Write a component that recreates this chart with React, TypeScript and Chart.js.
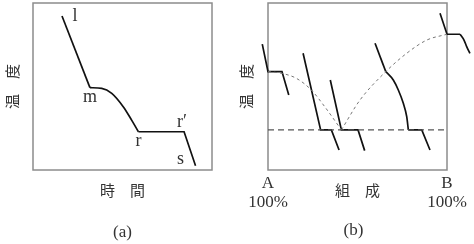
import React, { useEffect, useRef } from "react";
import { Chart, registerables } from "chart.js";
Chart.register(...registerables);

// ---------- Panel (a): cooling curve, time vs temperature ----------
const aLiquidTime = [16.2, 31.8];
const aLiquidTemp = [92.2, 49.3];
const aMushyTime = [31.8, 38.4, 44.0, 50.4, 55.1, 58.9];
const aMushyTemp = [49.3, 48.9, 45.9, 37.9, 29.9, 22.9];
const aSolidTime = [58.9, 84.4, 90.8];
const aSolidTemp = [22.9, 22.9, 2.6];
const aPointLabels = ["l", "m", "r", "r\u2032", "s"];
const aLabelTime = [16.2, 31.8, 58.9, 84.4, 90.8];
const aLabelTemp = [92.2, 49.3, 22.9, 22.9, 2.6];
const aLabelOffsetX = [13, 0, 0, -2, -15];
const aLabelOffsetY = [0, 10, 10, -9, -6];

// ---------- Panel (b): phase diagram, composition vs temperature ----------
const liqA_x = [0, 8, 16, 24.2, 31.7, 41];
const liqA_y = [58.9, 57.8, 54.8, 47.9, 37.9, 24];
const liqB_x = [41, 51.4, 65.8, 77.5, 88.7, 100];
const liqB_y = [24, 41.9, 58.9, 69.9, 77.8, 81.3];
const eut_x = [0, 100];
const eut_y = [24, 24];

const c1_x = [-3.2, 0, 7.8, 11.6];
const c1_y = [75.4, 58.9, 58.9, 44.9];
const c2_x = [19.6, 29.4, 35.4, 39.7];
const c2_y = [69.9, 24, 24, 12];
const c3_x = [34.8, 41, 50.3, 54];
const c3_y = [53.9, 24, 24, 11.6];
const c4a_x = [59.8, 65.8];
const c4a_y = [75.9, 58.9];
const c4b_x = [65.8, 70, 72.8, 75.6, 77.5, 78.4];
const c4b_y = [58.9, 53.9, 47.9, 39.9, 31.9, 24];
const c4c_x = [78.4, 85.9, 90.5];
const c4c_y = [24, 24, 12];
const c5a_x = [96.1, 100, 107.3];
const c5a_y = [93.8, 81.3, 81.3];
const c5b_x = [107.3, 109.5, 111, 112.8];
const c5b_y = [81.3, 77.8, 73.9, 69.9];

const SERIF = "'Liberation Serif', 'DejaVu Serif', serif";
const CJK = "'Noto Sans CJK JP', 'Noto Sans CJK SC', sans-serif";
const TEXT = "#333";

const zip = (xs: number[], ys: number[]) => xs.map((x, i) => ({ x, y: ys[i] }));

const solid = (xs: number[], ys: number[], curved = false) => ({
  data: zip(xs, ys),
  showLine: true,
  pointRadius: 0,
  borderColor: "#111",
  borderWidth: 1.7,
  clip: false as any,
  cubicInterpolationMode: curved ? "monotone" : "default",
  tension: 0,
});
const dashed = (xs: number[], ys: number[], color: string, w: number, dash: number[]) => ({
  data: zip(xs, ys),
  showLine: true,
  pointRadius: 0,
  borderColor: color,
  borderWidth: w,
  borderDash: dash,
  clip: false as any,
  cubicInterpolationMode: "monotone",
});

// frame drawn around the 0..100 range of both scales
const boxPlugin = {
  id: "box",
  beforeDatasetsDraw(chart: any) {
    const { ctx, scales } = chart;
    const l = scales.x.getPixelForValue(0);
    const r = scales.x.getPixelForValue(100);
    const t = scales.y.getPixelForValue(100);
    const b = scales.y.getPixelForValue(0);
    ctx.save();
    ctx.strokeStyle = "#8c8c8c";
    ctx.lineWidth = 1.5;
    ctx.strokeRect(l, t, r - l, b - t);
    ctx.restore();
  },
};

function text(ctx: any, s: string, x: number, y: number, font: string, rot = 0) {
  ctx.save();
  ctx.translate(x, y);
  if (rot) ctx.rotate(rot);
  ctx.font = font;
  ctx.fillStyle = TEXT;
  ctx.textAlign = "center";
  ctx.textBaseline = "middle";
  ctx.fillText(s, 0, 0);
  ctx.restore();
}

const labelsA = {
  id: "labelsA",
  afterDraw(chart: any) {
    const { ctx, chartArea: a, scales } = chart;
    const cx = (a.left + a.right) / 2;
    const cy = (a.top + a.bottom) / 2;
    text(ctx, "温\u3000度", 12, cy, `15px ${CJK}`, -Math.PI / 2);
    text(ctx, "時\u3000間", cx, a.bottom + 20, `15px ${CJK}`);
    text(ctx, "(a)", cx, a.bottom + 63, `17px ${SERIF}`);
    aPointLabels.forEach((s, i) => {
      const px = scales.x.getPixelForValue(aLabelTime[i]) + aLabelOffsetX[i];
      const py = scales.y.getPixelForValue(aLabelTemp[i]) + aLabelOffsetY[i];
      text(ctx, s, px, py, `18px ${SERIF}`);
    });
  },
};

const labelsB = {
  id: "labelsB",
  afterDraw(chart: any) {
    const { ctx, scales } = chart;
    const xA = scales.x.getPixelForValue(0);
    const xB = scales.x.getPixelForValue(100);
    const top = scales.y.getPixelForValue(100);
    const bottom = scales.y.getPixelForValue(0);
    const cx = (xA + xB) / 2;
    const cy = (top + bottom) / 2;
    text(ctx, "温\u3000度", 9.5, cy, `15px ${CJK}`, -Math.PI / 2);
    text(ctx, "組\u3000成", cx, bottom + 20, `15px ${CJK}`);
    text(ctx, "(b)", cx - 4, bottom + 61, `17px ${SERIF}`);
    text(ctx, "A", xA, bottom + 14, `17px ${SERIF}`);
    text(ctx, "100%", xA, bottom + 33, `17px ${SERIF}`);
    text(ctx, "B", xB, bottom + 14, `17px ${SERIF}`);
    text(ctx, "100%", xB, bottom + 33, `17px ${SERIF}`);
  },
};

const baseOptions = (padding: any, xMin: number, xMax: number) => ({
  responsive: false,
  animation: false as const,
  layout: { padding },
  plugins: { legend: { display: false }, tooltip: { enabled: false }, title: { display: false } },
  scales: {
    x: { type: "linear" as const, min: xMin, max: xMax, display: false },
    y: { type: "linear" as const, min: 0, max: 100, display: false },
  },
  events: [] as any,
});

export default function App() {
  const refA = useRef<HTMLCanvasElement>(null);
  const refB = useRef<HTMLCanvasElement>(null);

  useEffect(() => {
    const chA = new Chart(refA.current!, {
      type: "scatter",
      data: {
        datasets: [
          solid(aLiquidTime, aLiquidTemp),
          solid(aMushyTime, aMushyTemp, true),
          solid(aSolidTime, aSolidTemp),
        ] as any,
      },
      options: baseOptions({ left: 33, right: 25, top: 3, bottom: 74 }, 0, 100) as any,
      plugins: [boxPlugin, labelsA],
    });
    const chB = new Chart(refB.current!, {
      type: "scatter",
      data: {
        datasets: [
          dashed(eut_x, eut_y, "#555", 1.4, [6, 4]),
          dashed(liqA_x, liqA_y, "#777", 1, [3, 3]),
          dashed(liqB_x, liqB_y, "#777", 1, [3, 3]),
          solid(c1_x, c1_y),
          solid(c2_x, c2_y),
          solid(c3_x, c3_y),
          solid(c4a_x, c4a_y),
          solid(c4b_x, c4b_y, true),
          solid(c4c_x, c4c_y),
          solid(c5a_x, c5a_y),
          solid(c5b_x, c5b_y, true),
        ] as any,
      },
      options: baseOptions({ left: 22.05, right: 1.94, top: 3, bottom: 74 }, -5, 114) as any,
      plugins: [boxPlugin, labelsB],
    });
    return () => {
      chA.destroy();
      chB.destroy();
    };
  }, []);

  return (
    <div style={{ position: "absolute", left: 0, top: 0, width: 474, height: 244, background: "#fff" }}>
      <canvas ref={refA} width={237} height={244} style={{ position: "absolute", left: 0, top: 0, width: 237, height: 244 }} />
      <canvas ref={refB} width={237} height={244} style={{ position: "absolute", left: 237, top: 0, width: 237, height: 244 }} />
    </div>
  );
}
